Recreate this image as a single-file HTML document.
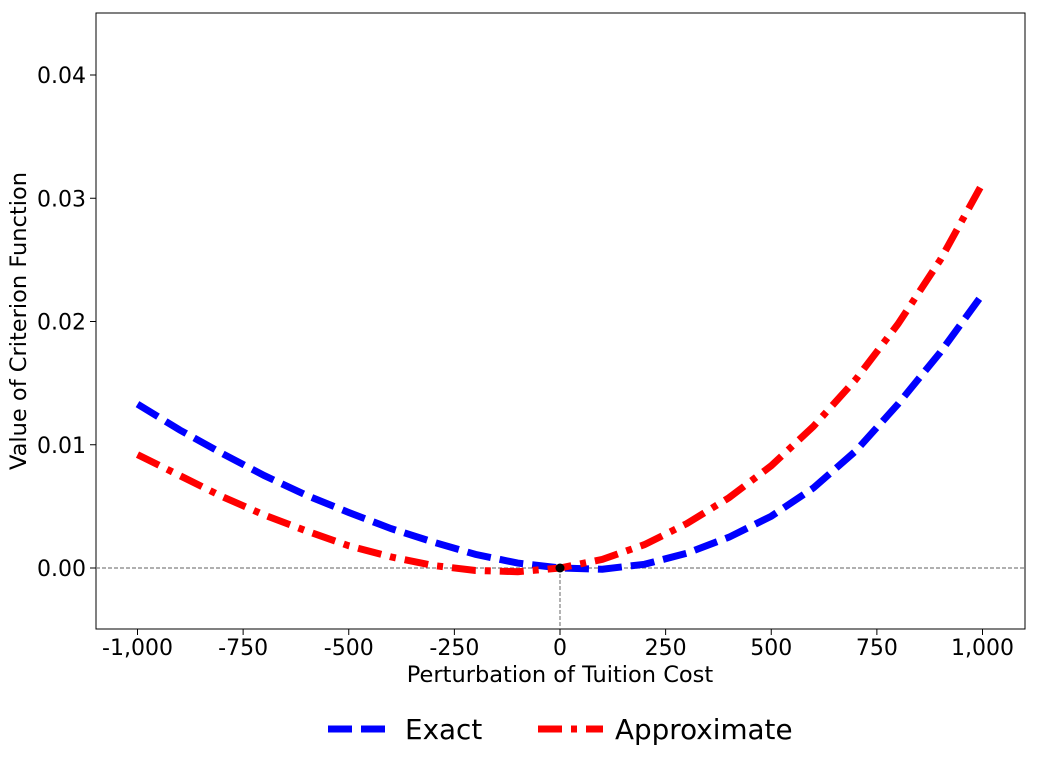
<!DOCTYPE html>
<html><head><meta charset="utf-8"><style>
body{margin:0;background:#fff;}
svg text{font-family:"DejaVu Sans","Liberation Sans",sans-serif;fill:#000;}
</style></head><body>
<svg id="chart" width="1038" height="765">
<rect x="96" y="13" width="929" height="616" fill="none" stroke="#000" stroke-width="1"/>
<g id="ticks"></g>
<g id="series"></g>
<text x="560" y="682" font-size="22.5" text-anchor="middle">Perturbation of Tuition Cost</text>
<text x="0" y="0" font-size="22.5" text-anchor="middle" transform="translate(26,321) rotate(-90)">Value of Criterion Function</text>
<g>
<line x1="328" y1="729" x2="393" y2="729" stroke="#0000ff" stroke-width="7" stroke-dasharray="24,9"/>
<text x="405" y="739" font-size="27.8">Exact</text>
<line x1="538" y1="729" x2="603" y2="729" stroke="#ff0000" stroke-width="7" stroke-dasharray="24,9,6,9"/>
<text x="615" y="739" font-size="27.8">Approximate</text>
</g>
</svg>
<script>
const xs=[-1000,-900,-800,-700,-600,-500,-400,-300,-200,-100,0,100,200,300,400,500,600,700,800,900,1000];
const exactVals=[0.0133,0.0112,0.0093,0.0075,0.0059,0.0045,0.0032,0.0021,0.0011,0.0004,0,-0.0001,0.0003,0.0012,0.0025,0.0042,0.0065,0.0095,0.0133,0.0175,0.0222];
const approxVals=[0.0092,0.0075,0.0058,0.0043,0.0030,0.0018,0.0009,0.0002,-0.0002,-0.0003,0,0.0007,0.0019,0.0036,0.0057,0.0083,0.0115,0.0153,0.0198,0.0250,0.0312];
const xTicks=[-1000,-750,-500,-250,0,250,500,750,1000];
const xTickLabels=["-1,000","-750","-500","-250","0","250","500","750","1,000"];
const yTicks=[0,0.01,0.02,0.03,0.04];
const yTickLabels=["0.00","0.01","0.02","0.03","0.04"];
const NS="http://www.w3.org/2000/svg";
function X(v){return 560+v*0.4225;}
function Y(v){return 568-v*12325;}
function mk(t,a,p){const e=document.createElementNS(NS,t);for(const k in a)e.setAttribute(k,a[k]);p.appendChild(e);return e;}
const tg=document.getElementById('ticks');
xTicks.forEach((v,i)=>{
 const l=mk('line',{x1:X(v),x2:X(v),y1:629,y2:635,stroke:'#000'},tg);
 
 
 const t=mk('text',{x:X(v),y:655,'font-size':22,'text-anchor':'middle'},tg);t.textContent=xTickLabels[i];
 
 
});
yTicks.forEach((v,i)=>{
 const l=mk('line',{x1:90,x2:96,y1:Y(v),y2:Y(v),stroke:'#000'},tg);
 
 
 const t=mk('text',{x:86,y:Y(v)+8,'font-size':22,'text-anchor':'end'},tg);t.textContent=yTickLabels[i];
 
 
});
const sg=document.getElementById('series');
const h=mk('line',{x1:96,x2:1025,y1:Y(0),y2:Y(0),stroke:'#808080','stroke-width':1.2,'stroke-dasharray':'4,2'},sg);


const v=mk('line',{x1:X(0),x2:X(0),y1:Y(0),y2:629,stroke:'#808080','stroke-width':1.2,'stroke-dasharray':'4,2'},sg);


function path(vals){return vals.map((y,i)=>(i?'L':'M')+X(xs[i]).toFixed(1)+','+Y(y).toFixed(1)).join(' ');}
const pe=mk('path',{d:path(exactVals),fill:'none',stroke:'#0000ff','stroke-width':7,'stroke-dasharray':'24,9'},sg);


const pa=mk('path',{d:path(approxVals),fill:'none',stroke:'#ff0000','stroke-width':7,'stroke-dasharray':'24,9,6,9'},sg);


const d=mk('circle',{cx:X(0),cy:Y(0),r:4.5,fill:'#000'},sg);


</script>
</body></html>
